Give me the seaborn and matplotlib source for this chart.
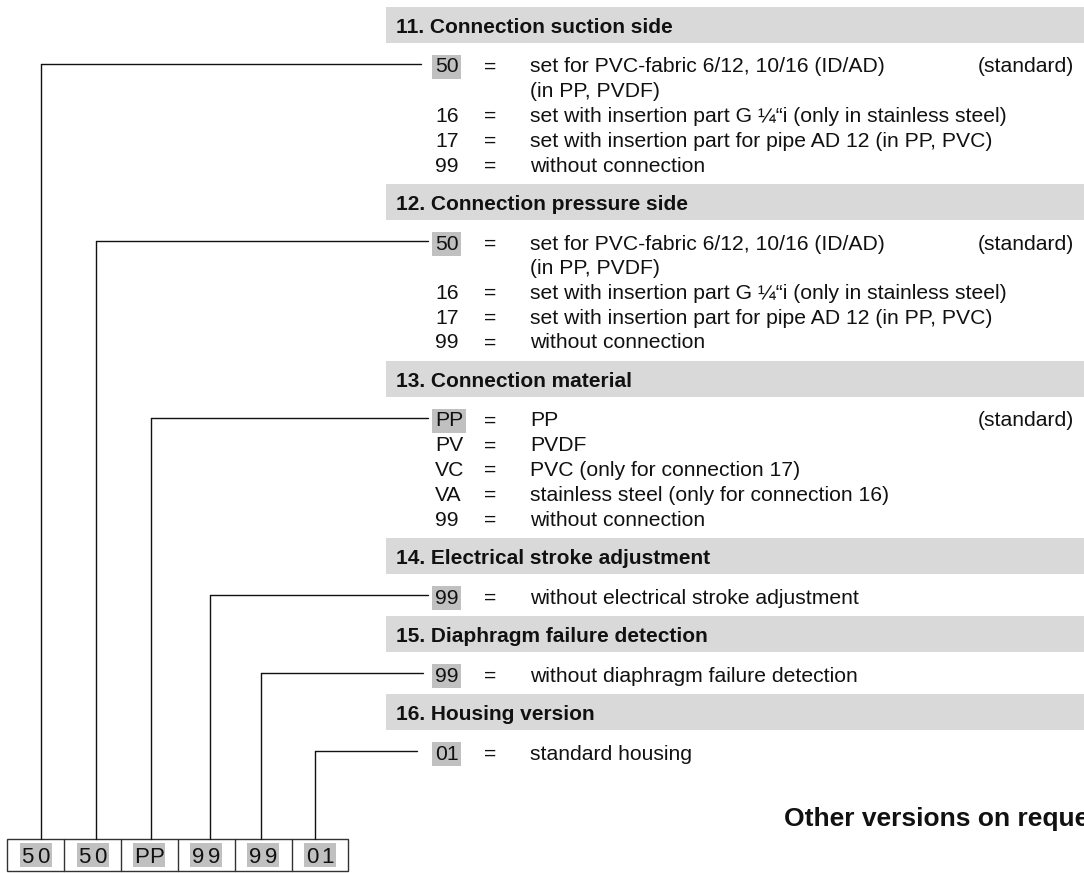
import matplotlib
matplotlib.use("Agg")
import matplotlib.pyplot as plt
from matplotlib.patches import Rectangle
import seaborn as sns

# data
sections = [
    "11. Connection suction side",
    "12. Connection pressure side",
    "13. Connection material",
    "14. Electrical stroke adjustment",
    "15. Diaphragm failure detection",
    "16. Housing version",
]
codes = [
    ["50", "", "16", "17", "99"],
    ["50", "", "16", "17", "99"],
    ["PP", "PV", "VC", "VA", "99"],
    ["99"],
    ["99"],
    ["01"],
]
descriptions = [
    ["set for PVC-fabric 6/12, 10/16 (ID/AD)", "(in PP, PVDF)",
     "set with insertion part G \u00bc\u201ci (only in stainless steel)",
     "set with insertion part for pipe AD 12 (in PP, PVC)",
     "without connection"],
    ["set for PVC-fabric 6/12, 10/16 (ID/AD)", "(in PP, PVDF)",
     "set with insertion part G \u00bc\u201ci (only in stainless steel)",
     "set with insertion part for pipe AD 12 (in PP, PVC)",
     "without connection"],
    ["PP", "PVDF", "PVC (only for connection 17)",
     "stainless steel (only for connection 16)", "without connection"],
    ["without electrical stroke adjustment"],
    ["without diaphragm failure detection"],
    ["standard housing"],
]
notes = ["(standard)", "(standard)", "(standard)", "", "", ""]
selected = ["50", "50", "PP", "99", "99", "01"]
footer = "Other versions on request"

# layout (pixels)
W, H = 1084, 873
HL_GRAY = "#c0c0c0"
BAND_GRAY = "#d9d9d9"
lead_x = [40.7, 96, 150.7, 210, 261, 315]
lead_end = [421, 428, 428, 428, 423, 417]
box_top, box_bot = 839, 871
box_left, cell_w = 7.3, 56.85

sns.set_theme(style="white")
plt.rcParams["font.family"] = ["Liberation Sans", "DejaVu Sans"]

fig = plt.figure(figsize=(W / 100, H / 100), dpi=100)
ax = fig.add_axes([0, 0, 1, 1])
ax.set_xlim(0, W)
ax.set_ylim(H, 0)
ax.axis("off")

ROW_FS = 15.2
HEAD_FS = 15

y = 25
for i, sec in enumerate(sections):
    # header band
    ax.add_patch(Rectangle((386, y - 18), W - 386, 36, fc=BAND_GRAY, ec="none"))
    ax.text(396, y + 7.6, sec, fontsize=HEAD_FS, fontweight="bold", va="baseline", color="#111")
    y += 40
    for j, (c, d) in enumerate(zip(codes[i], descriptions[i])):
        base = y + 7.5
        if c:
            kw = {}
            if j == 0:
                kw["bbox"] = dict(boxstyle="square,pad=0.12", fc=HL_GRAY, ec="none")
            ax.text(435, base, c, fontsize=ROW_FS, va="baseline", color="#111", **kw)
            ax.text(484, base, "=", fontsize=ROW_FS, va="baseline", color="#111")
        ax.text(530, base, d, fontsize=ROW_FS, va="baseline", color="#111")
        if j == 0:
            if notes[i]:
                ax.text(978, base, notes[i], fontsize=ROW_FS, va="baseline", color="#111")
            # leader line
            ax.plot([lead_x[i], lead_end[i]], [y - 1, y - 1], color="#111", lw=1.0)
            ax.plot([lead_x[i], lead_x[i]], [y - 1, box_top], color="#111", lw=1.0)
        y += 24.75
    y += 38 - 24.75

# cut at the right edge, as in the source page
ax.text(784, 826, footer, fontsize=19, fontweight="bold", va="baseline", color="#111")

# bottom code box
ax.add_patch(Rectangle((box_left, box_top), cell_w * len(selected), box_bot - box_top,
                       fc="none", ec="#333", lw=1.0))
for k, code in enumerate(selected):
    x0 = box_left + k * cell_w
    if k > 0:
        ax.plot([x0, x0], [box_top, box_bot], color="#333", lw=1.0)
    cx = x0 + cell_w / 2
    ax.add_patch(Rectangle((cx - 16, box_top + 3.5), 32, 24, fc=HL_GRAY, ec="none"))
    for m, ch in enumerate(code):
        ax.text(cx - 8 + 15.5 * m, box_top + 24, ch, fontsize=16, ha="center",
                va="baseline", color="#111")

fig.savefig("out.png", dpi=100)
